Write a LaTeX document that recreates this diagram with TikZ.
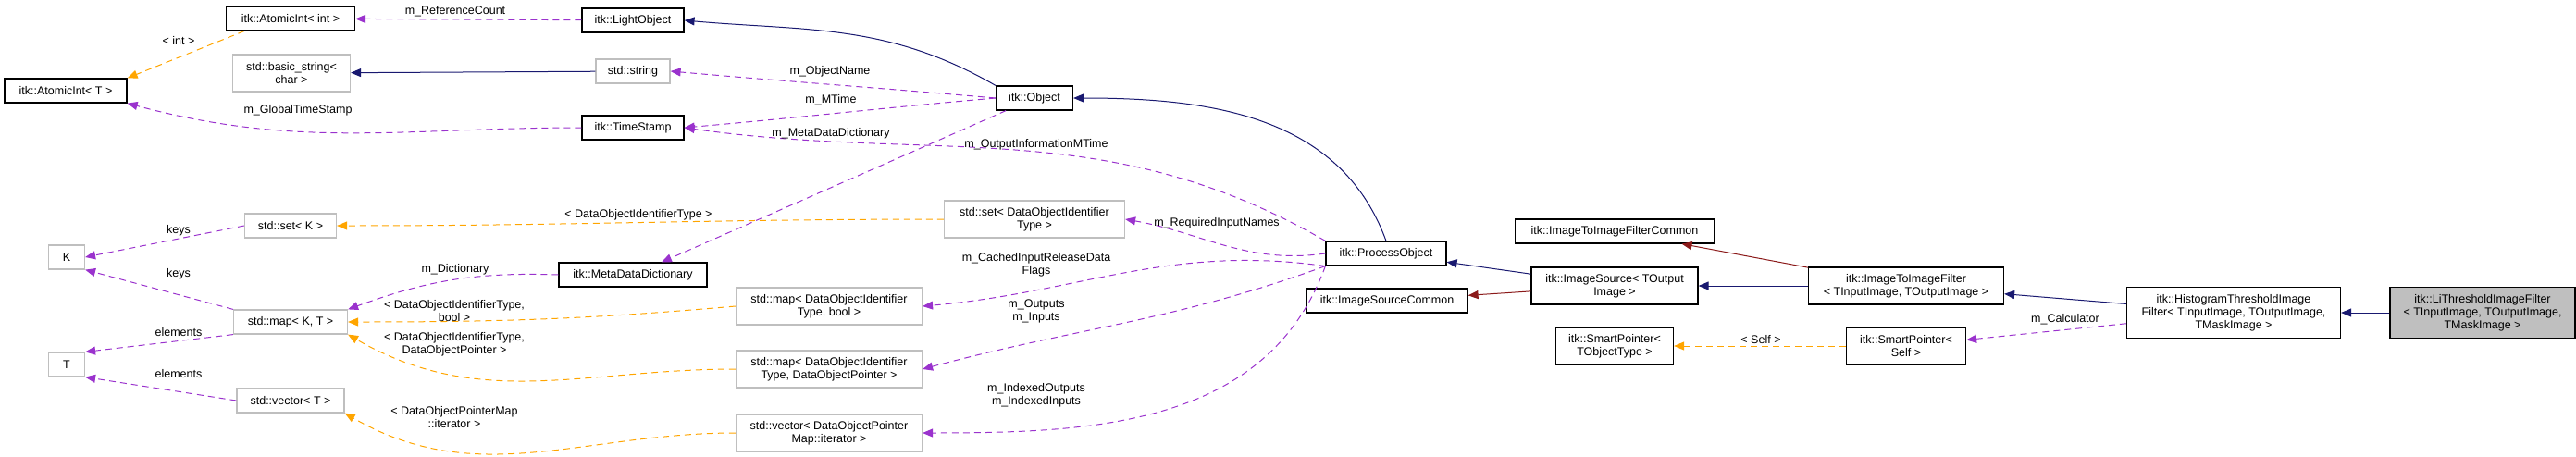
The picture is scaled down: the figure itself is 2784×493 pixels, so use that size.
\documentclass[tikz,border=0pt]{standalone}
\usepackage{fontspec}
\setmainfont{Liberation Sans}
\usetikzlibrary{arrows.meta}
\definecolor{navy}{HTML}{191970}
\definecolor{dred}{HTML}{8B1A1A}
\definecolor{purp}{HTML}{9A32CD}
\definecolor{orng}{HTML}{FFA500}
\definecolor{gborder}{HTML}{BFBFBF}
\begin{document}
\begin{tikzpicture}[x=1pt,y=-1pt,
  font=\fontsize{12.5}{14}\selectfont,
  box/.style={draw=black,line width=1.2pt,inner sep=0pt,minimum height=26pt,align=center,fill=white},
  gbox/.style={box,draw=gborder},
  tip/.style={-{Triangle[length=11pt,width=9pt]}},
  inh/.style={tip,draw=navy,line width=1pt,-{Triangle[length=11pt,width=9pt,fill=navy]}},
  priv/.style={tip,draw=dred,line width=1pt,-{Triangle[length=11pt,width=9pt,fill=dred]}},
  use/.style={draw=purp,line width=1pt,dash pattern=on 7pt off 5pt,-{Triangle[length=11pt,width=9pt,fill=purp]}},
  tmpl/.style={draw=orng,line width=1pt,dash pattern=on 7pt off 5pt,-{Triangle[length=11pt,width=9pt,fill=orng]}},
  lab/.style={inner sep=0pt,align=center}]
\useasboundingbox (0,0) rectangle (2784,493);
% nodes
\node[box,minimum width=139pt] (aint) at (314,20) {itk::AtomicInt< int >};
\node[box,minimum width=132pt] (aT) at (71,98) {itk::AtomicInt< T >};
\node[gbox,minimum width=127pt,minimum height=40pt] (bstr) at (315,79) {std::basic\_string<\\char >};
\node[gbox,minimum width=99pt] (setK) at (314,244) {std::set< K >};
\node[gbox,minimum width=39pt] (K) at (72,278) {K};
\node[gbox,minimum width=123pt] (mapKT) at (314,348) {std::map< K, T >};
\node[gbox,minimum width=39pt] (T) at (72,394) {T};
\node[gbox,minimum width=116pt] (vecT) at (314,433) {std::vector< T >};
\node[box,minimum width=110pt] (light) at (684,22) {itk::LightObject};
\node[gbox,minimum width=80pt] (str) at (684,77) {std::string};
\node[box,minimum width=110pt] (ts) at (684,138) {itk::TimeStamp};
\node[box,minimum width=160pt] (mdd) at (684,297) {itk::MetaDataDictionary};
\node[box,minimum width=83pt] (obj) at (1118,106) {itk::Object};
\node[gbox,minimum width=195pt,minimum height=40pt] (setD) at (1118,237) {std::set< DataObjectIdentifier\\Type >};
\node[gbox,minimum width=201pt,minimum height=40pt] (mapB) at (896,331) {std::map< DataObjectIdentifier\\Type, bool >};
\node[gbox,minimum width=201pt,minimum height=40pt] (mapP) at (896,399) {std::map< DataObjectIdentifier\\Type, DataObjectPointer >};
\node[gbox,minimum width=201pt,minimum height=40pt] (vecI) at (896,468) {std::vector< DataObjectPointer\\Map::iterator >};
\node[box,minimum width=130pt] (po) at (1498,274) {itk::ProcessObject};
\node[box,minimum width=174pt] (isc) at (1499,325) {itk::ImageSourceCommon};
\node[box,minimum width=180pt,minimum height=40pt] (is) at (1745,309) {itk::ImageSource< TOutput\\Image >};
\node[box,minimum width=215pt] (itic) at (1745,250) {itk::ImageToImageFilterCommon};
\node[box,minimum width=211pt,minimum height=40pt] (itif) at (2060,309) {itk::ImageToImageFilter\\< TInputImage, TOutputImage >};
\node[box,minimum width=231pt,minimum height=55pt] (hist) at (2414,338) {itk::HistogramThresholdImage\\Filter< TInputImage, TOutputImage,\\TMaskImage >};
\node[box,fill=gborder,minimum width=200pt,minimum height=55pt] (li) at (2683,338) {itk::LiThresholdImageFilter\\< TInputImage, TOutputImage,\\TMaskImage >};
\node[box,minimum width=127pt,minimum height=40pt] (spT) at (1745,374) {itk::SmartPointer<\\TObjectType >};
\node[box,minimum width=129pt,minimum height=40pt] (spS) at (2060,374) {itk::SmartPointer<\\Self >};
% edges
\draw[use] (light) -- (aint);
\draw[tmpl] (aint.south west) ++(20,0) coordinate (aintS) -- (aT.north east) ;
\draw[inh] (str) -- (bstr);
\draw[use] (ts.west) to[out=180,in=-15] (aT.south east);
\draw[inh] (obj.north west) to[out=150,in=-5] (light.east);
\draw[use] (obj.west) to[out=175,in=-5] (str.east);
\draw[use] (obj.west) to[out=185,in=5] (ts.east);
\draw[use] (obj) -- (mdd);
\draw[use] (po.north west) to[out=150,in=-8] (ts.east);
\draw[inh] (po.north) to[out=110,in=0] (obj.east);
\draw[use] (po.west) to[out=188,in=-10] (setD.east);
\draw[use] (po.south west) to[out=172,in=5] (mapB.east);
\draw[use] (po.south west) to[out=200,in=15] (mapP.east);
\draw[use] (po.south west) to[out=250,in=0] (vecI.east);
\draw[use] (mdd.west) to[out=178,in=20] (mapKT.north east);
\draw[use] (setK.west) -- (K.east);
\draw[use] (mapKT.north west) -- (K.south east);
\draw[use] (mapKT.south west) -- (T.north east);
\draw[use] (vecT.west) -- (T.south east);
\draw[tmpl] (setD.west) to[out=180,in=0] (setK.east);
\draw[tmpl] (mapB.west) to[out=185,in=0] (mapKT.east);
\draw[tmpl] (mapP.west) to[out=180,in=-30] (mapKT.south east);
\draw[tmpl] (vecI.west) to[out=180,in=-30] (vecT.south east);
\draw[inh] (is) -- (po);
\draw[priv] (is) -- (isc);
\draw[inh] (itif) -- (is);
\draw[priv] (itif) -- (itic);
\draw[inh] (hist) -- (itif);
\draw[use] (hist) -- (spS);
\draw[tmpl] (spS) -- (spT);
\draw[inh] (li) -- (hist);
% labels
\node[lab] (l1) at (492,12) {m\_ReferenceCount};
\node[lab] (l2) at (193,44) {< int >};
\node[lab] (l3) at (322,119) {m\_GlobalTimeStamp};
\node[lab] (l4) at (897,77) {m\_ObjectName};
\node[lab] (l5) at (898,108) {m\_MTime};
\node[lab] (l6) at (898,144) {m\_MetaDataDictionary};
\node[lab] (l7) at (1120,156) {m\_OutputInformationMTime};
\node[lab] (l8) at (1315,241) {m\_RequiredInputNames};
\node[lab] (l9) at (1120,286) {m\_CachedInputReleaseData\\Flags};
\node[lab] (l10) at (1120,336) {m\_Outputs\\m\_Inputs};
\node[lab] (l11) at (1120,427) {m\_IndexedOutputs\\m\_IndexedInputs};
\node[lab] (l12) at (492,291) {m\_Dictionary};
\node[lab] (l13) at (193,249) {keys};
\node[lab] (l14) at (193,296) {keys};
\node[lab] (l15) at (193,359) {elements};
\node[lab] (l16) at (193,404) {elements};
\node[lab] (l17) at (690,232) {< DataObjectIdentifierType >};
\node[lab] (l18) at (491,336) {< DataObjectIdentifierType,\\bool >};
\node[lab] (l19) at (491,372) {< DataObjectIdentifierType,\\DataObjectPointer >};
\node[lab] (l20) at (491,451) {< DataObjectPointerMap\\::iterator >};
\node[lab] (l21) at (2232,345) {m\_Calculator};
\node[lab] (l22) at (1903,367) {< Self >};
\end{tikzpicture}
\end{document}
